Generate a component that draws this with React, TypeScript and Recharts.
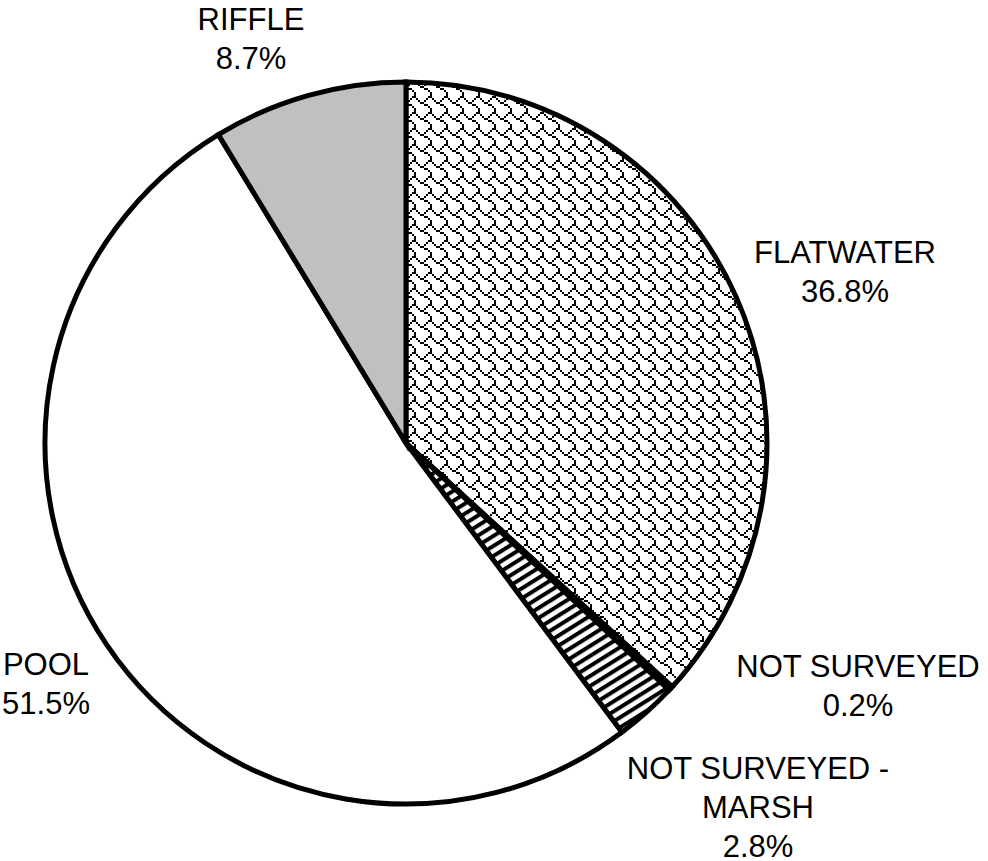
import React from "react";
import { PieChart, Pie, Cell } from "recharts";

const categories = ["FLATWATER", "NOT SURVEYED", "NOT SURVEYED - MARSH", "POOL", "RIFFLE"];
const labelLines = [["FLATWATER"], ["NOT SURVEYED"], ["NOT SURVEYED -", "MARSH"], ["POOL"], ["RIFFLE"]];
const shares = [36.8, 0.2, 2.8, 51.5, 8.7];

// fills per slice, same order as categories
const fills = ["url(#shingle)", "#000000", "url(#stripes)", "#ffffff", "#c0c0c0"];

// where each label block sits, measured from the pie centre
const labelOffsets = [
    [439, -172],
    [452, 242],
    [352, 364],
    [-360, 240],
    [-155, -405],
];

// 8x8 shingle hatch bitmap, drawn at 2x
const SHINGLE_BITS = [0x03, 0x84, 0x48, 0x30, 0x0c, 0x02, 0x01, 0x01];

const data = categories.map((name, i) => ({ name, value: shares[i] }));

const FONT = "'Liberation Sans', Arial, sans-serif";
const LINE_H = 39;

function ShinglePattern() {
    const cells: React.ReactNode[] = [];
    SHINGLE_BITS.forEach((row, y) => {
        for (let x = 0; x < 8; x++) {
            if (row & (0x80 >> x)) {
                cells.push(<rect key={`${x}-${y}`} x={x * 2} y={y * 2} width={2} height={2} fill="#000" />);
            }
        }
    });
    return (
        <pattern id="shingle" patternUnits="userSpaceOnUse" width={16} height={16}>
            <rect width={16} height={16} fill="#fff" />
            {cells}
        </pattern>
    );
}

function renderLabel(props: any) {
    const { cx, cy, index, value } = props;
    const [dx, dy] = labelOffsets[index];
    const lines = [...labelLines[index], `${value.toFixed(1)}%`];
    const top = cy + dy - ((lines.length - 1) * LINE_H) / 2;
    return (
        <text
            x={cx + dx}
            y={top}
            textAnchor="middle"
            dominantBaseline="central"
            fontFamily={FONT}
            fontSize={31}
            fill="#000"
        >
            {lines.map((l, i) => (
                <tspan key={i} x={cx + dx} y={top + i * LINE_H}>
                    {l}
                </tspan>
            ))}
        </text>
    );
}

export default function App() {
    return (
        <div style={{ position: "absolute", left: 0, top: 0, width: 988, height: 861, background: "#fff" }}>
            <PieChart width={988} height={861} margin={{ top: 0, right: 0, bottom: 0, left: 0 }}>
                <defs>
                    <ShinglePattern />
                    <pattern
                        id="stripes"
                        patternUnits="userSpaceOnUse"
                        width={8.5}
                        height={8.5}
                        patternTransform="rotate(-32)"
                    >
                        <rect width={8.5} height={8.5} fill="#fff" />
                        <rect width={8.5} height={4} fill="#000" />
                    </pattern>
                </defs>
                <Pie
                    data={data}
                    dataKey="value"
                    nameKey="name"
                    cx={406}
                    cy={443}
                    outerRadius={361}
                    startAngle={90}
                    endAngle={-270}
                    stroke="#000"
                    strokeWidth={5}
                    label={renderLabel}
                    labelLine={false}
                    isAnimationActive={false}
                >
                    {data.map((d, i) => (
                        <Cell key={d.name} fill={fills[i]} stroke="#000" strokeWidth={5} />
                    ))}
                </Pie>
            </PieChart>
        </div>
    );
}
